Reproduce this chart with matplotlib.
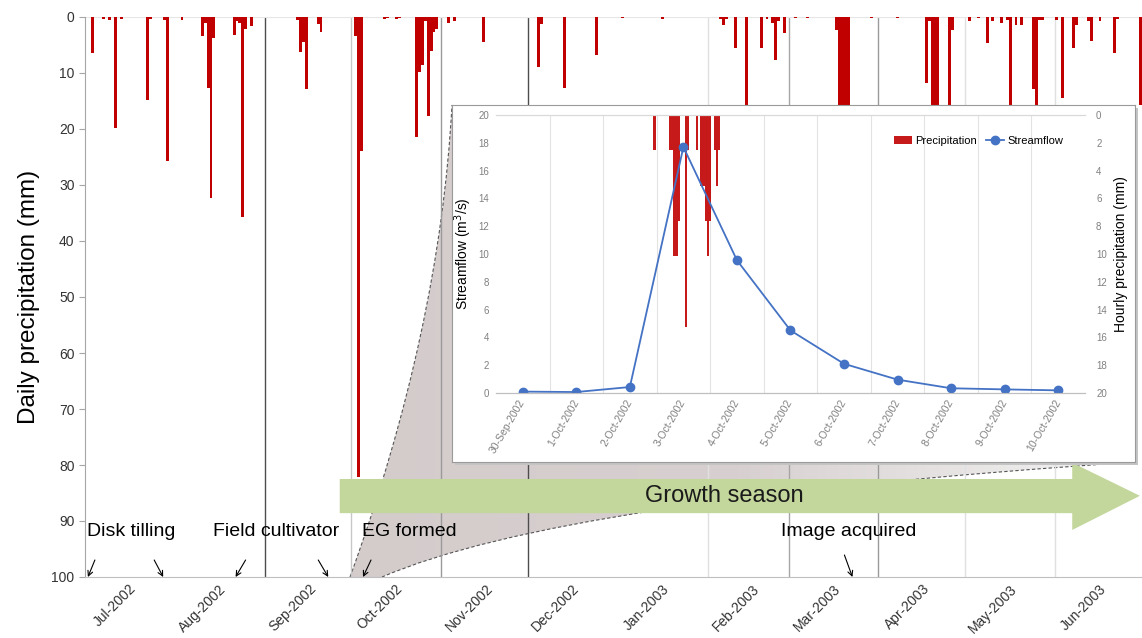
import numpy as np
import pandas as pd
import matplotlib
matplotlib.use('Agg')
import matplotlib.pyplot as plt
import matplotlib.dates as mdates
from matplotlib.patches import Polygon, Rectangle, PathPatch
from matplotlib.path import Path
from matplotlib.colors import LinearSegmentedColormap

plt.rcParams['font.family'] = ['Liberation Sans', 'DejaVu Sans']

# ---- daily precipitation, days counted from 1-Jul-2002 ----
season_start = '2002-07-01'
rain_day = [2, 6, 8, 10, 12, 21, 22, 27, 28, 33,
            40, 41, 42, 43, 44, 51, 52, 53, 54, 55, 57,
            73, 74, 75, 76, 80, 81,
            93, 94, 95, 103, 104, 107, 108,
            114, 115, 116, 117, 118, 119, 120, 121, 125, 127, 137,
            156, 157, 165, 176, 185, 199,
            219, 220, 221, 224, 228, 233, 235, 237, 238, 239, 241,
            245, 249, 259, 260, 261, 262, 263, 271, 280,
            290, 291, 292, 293, 294, 298, 299, 305, 308, 311, 313, 316, 318,
            319, 321, 323, 327, 328, 329, 330,
            335, 337, 341, 342, 346, 347, 350, 355, 356, 364]
rain_mm = [6.5, 0.3, 0.5, 19.9, 0.3, 14.8, 0.3, 0.5, 25.7, 0.6,
           3.4, 1.0, 12.7, 32.3, 3.8, 3.2, 0.8, 1.0, 35.8, 2.2, 1.6,
           0.6, 6.2, 4.4, 12.9, 1.3, 2.7,
           3.4, 82.2, 24.0, 0.3, 0.2, 0.3, 0.2,
           21.4, 9.9, 8.6, 0.7, 17.7, 6.0, 2.6, 2.2, 1.1, 0.7, 4.4,
           9.0, 1.3, 12.7, 6.8, 0.2, 0.4,
           0.3, 1.5, 0.3, 5.6, 18.0, 5.6, 0.4, 1.0, 7.6, 0.8, 2.8,
           0.2, 0.2, 2.3, 20.0, 24.0, 22.0, 17.0, 0.2, 0.2,
           11.7, 0.8, 18.0, 20.0, 17.0, 17.0, 2.4, 0.8, 0.2, 4.7, 0.7, 1.0, 0.5,
           20.0, 1.4, 1.4, 12.9, 19.0, 0.6, 0.6,
           0.5, 14.5, 5.6, 1.4, 0.8, 4.2, 0.8, 6.5, 0.3, 15.7]

month_labels = ['Jul-2002', 'Aug-2002', 'Sep-2002', 'Oct-2002', 'Nov-2002', 'Dec-2002',
                'Jan-2003', 'Feb-2003', 'Mar-2003', 'Apr-2003', 'May-2003', 'Jun-2003']

# month boundary lines and their grey level
line_dates = ['2002-09-01', '2002-10-01', '2002-11-01', '2002-12-01', '2003-02-01',
              '2003-03-01', '2003-04-01', '2003-05-01', '2003-06-01']
line_colors = ['#4d4d4d', '#c8c8c8', '#9a9a9a', '#4d4d4d', '#e0e0e0',
               '#a6a6a6', '#9a9a9a', '#e0e0e0', '#e0e0e0']

# field operations (label, arrow dates)
events = [('Disk tilling', ['2002-07-02', '2002-07-28']),
          ('Field cultivator', ['2002-08-22', '2002-09-23']),
          ('EG formed', ['2002-10-05']),
          ('Image acquired', ['2003-03-23'])]

# ---- inset: storm of October 2002 ----
flow_dates = ['30-Sep-2002', '1-Oct-2002', '2-Oct-2002', '3-Oct-2002', '4-Oct-2002',
              '5-Oct-2002', '6-Oct-2002', '7-Oct-2002', '8-Oct-2002', '9-Oct-2002',
              '10-Oct-2002']
streamflow = [0.10, 0.07, 0.43, 17.7, 9.55, 4.5, 2.1, 0.96, 0.34, 0.26, 0.19]
# hours counted from 30-Sep-2002 00:00
hour = [71, 78, 79, 80, 81, 82, 85, 86, 90, 92, 93, 94, 95, 96, 98, 99, 100]
hourly_mm = [2.54, 2.54, 2.54, 10.16, 10.16, 7.62, 15.24, 2.54, 2.54,
             5.08, 5.08, 7.62, 10.16, 7.62, 2.54, 5.08, 2.54]

W, H = 1142, 638
fig = plt.figure(figsize=(W / 100, H / 100), dpi=100)


def fx(x):
    return x / W


def fy(y):
    return 1 - y / H


def P(x, y):
    return (fx(x), fy(y))


red = '#c00000'
ax = fig.add_axes([fx(85), fy(577), fx(1142) - fx(85), fy(17) - fy(577)])
ax.set_zorder(0)

start = pd.Timestamp(season_start)
x0 = mdates.date2num(start)
x1 = mdates.date2num(start + pd.DateOffset(years=1))
xs = mdates.date2num(start + pd.to_timedelta(rain_day, unit='D')) + 0.5
ax.bar(xs, rain_mm, width=1.0, color=red, zorder=3)

# shaded zoom wedge towards the inset
wedge_path = Path([P(350, 577), P(440, 330), P(452, 105), P(1135, 105), P(1135, 462),
                   P(560, 500), P(382, 577), P(350, 577)],
                  [Path.MOVETO, Path.CURVE3, Path.CURVE3, Path.LINETO, Path.LINETO,
                   Path.CURVE3, Path.CURVE3, Path.CLOSEPOLY])
wedge = PathPatch(wedge_path, transform=fig.transFigure, facecolor='none', edgecolor='none')
ax.add_patch(wedge)
cmap = LinearSegmentedColormap.from_list('fade', ['#d4cbcb', '#d8d0d0', '#f4f4f4'])
grad = ax.imshow(np.linspace(0, 1, 256)[None, :], cmap=cmap, aspect='auto',
                 extent=(mdates.date2num(pd.Timestamp('2002-09-25')), x1, 100, 0), zorder=1)
grad.set_clip_path(wedge)
for vv in ([P(350, 577), P(440, 330), P(452, 105)], [P(1135, 462), P(560, 500), P(382, 577)]):
    ax.add_patch(PathPatch(Path(vv, [Path.MOVETO, Path.CURVE3, Path.CURVE3]),
                           transform=fig.transFigure, fill=False, ls=(0, (3, 2)),
                           ec='#555555', lw=0.8, zorder=1.5))

for d, c in zip(line_dates, line_colors):
    ax.axvline(mdates.date2num(pd.Timestamp(d)), color=c, lw=1.0, zorder=2)
ax.axhline(0, color='#e6e6e6', lw=0.8, zorder=2)

# growth season arrow (axes fractions)
arrow = Polygon([(0.241, 0.114), (0.241, 0.175), (0.934, 0.175), (0.934, 0.204),
                 (0.998, 0.145), (0.934, 0.084), (0.934, 0.114)],
                closed=True, transform=ax.transAxes, facecolor='#c3d69b',
                edgecolor='none', zorder=4)
ax.add_patch(arrow)
ax.text(0.605, 0.145, 'Growth season', transform=ax.transAxes, fontsize=17,
        ha='center', va='center', color='#1a1a1a', zorder=5)

# field operations
text_pos = {'Disk tilling': (87, 531), 'Field cultivator': (213, 531),
            'EG formed': (362, 531), 'Image acquired': (781, 531)}
tails = {'2002-07-02': (7, 17), '2002-07-28': (-9, 17), '2002-08-22': (10, 17),
         '2002-09-23': (-10, 17), '2002-10-05': (8, 17), '2003-03-23': (-8, 22)}
for name, dates in events:
    tx, ty = text_pos[name]
    ax.text((tx - 85) / 1057, (577 - ty) / 560, name, transform=ax.transAxes,
            fontsize=14, ha='left', va='center', color='black', zorder=5)
    for d in dates:
        ax.annotate('', xy=(mdates.date2num(pd.Timestamp(d)), 100),
                    xytext=tails[d], textcoords='offset pixels',
                    arrowprops=dict(arrowstyle='->', lw=0.8, color='black',
                                    shrinkA=0, shrinkB=0, mutation_scale=9),
                    zorder=5)

ax.set_xlim(x0, x1)
ax.set_ylim(100, 0)
ax.set_yticks(range(0, 101, 10))
month_starts = pd.date_range(start, periods=12, freq='MS')
ax.set_xticks(mdates.date2num(month_starts + pd.Timedelta(days=17)))
ax.set_xticklabels(month_labels, rotation=45, ha='right', rotation_mode='anchor',
                   va='center')
ax.tick_params(axis='x', length=0, pad=7, labelsize=10, labelcolor='#333333')
ax.tick_params(axis='y', length=4, color='#a6a6a6', labelsize=10, labelcolor='#333333')
for s in ['top', 'right']:
    ax.spines[s].set_visible(False)
ax.spines['left'].set_color('#a6a6a6')
ax.spines['bottom'].set_color('#bfbfbf')
ax.set_ylabel('Daily precipitation (mm)', fontsize=17.5, labelpad=8)

# ---- inset box ----
fig.add_artist(Rectangle(P(455, 465), fx(1135) - fx(452), fy(105) - fy(462),
                         transform=fig.transFigure, facecolor='#c4c4c4',
                         edgecolor='none', zorder=1.5))
box = fig.add_axes([fx(452), fy(462), fx(1135) - fx(452), fy(105) - fy(462)])
box.set_zorder(2)
box.set_xticks([])
box.set_yticks([])
for s in box.spines.values():
    s.set_color('#9a9a9a')

axp = fig.add_axes([fx(496), fy(393), fx(1085) - fx(496), fy(115) - fy(393)])
axp.set_zorder(3)
axp.patch.set_visible(False)
axs = axp.twinx()
axs.set_zorder(4)
axs.patch.set_visible(False)

pos = np.array(hour) / 24 - 0.5
bars = axp.bar(pos, hourly_mm, width=1 / 24, color=red, alpha=0.9, label='Precipitation')
for k in range(10):
    axp.axvline(k + 0.5, color='#e3e3e3', lw=0.8, zorder=0)
axp.set_ylim(20, 0)
axp.set_yticks(range(0, 21, 2))
axp.yaxis.tick_right()
axp.yaxis.set_label_position('right')
axp.set_ylabel('Hourly precipitation (mm)', fontsize=10, labelpad=5)

idx = np.arange(len(flow_dates))
line, = axs.plot(idx, streamflow, color='#4472c4', lw=1.3, marker='o', ms=6,
                 label='Streamflow')
axs.set_ylim(0, 20)
axs.set_yticks(range(0, 21, 2))
axs.yaxis.tick_left()
axs.yaxis.set_label_position('left')
axs.set_ylabel('Streamflow (m$^3$/s)', fontsize=10, labelpad=3)

axp.set_xlim(-0.5, 10.5)
axp.set_xticks(idx)
axp.set_xticklabels(flow_dates, rotation=60, ha='right', rotation_mode='anchor',
                    va='center')
axp.tick_params(axis='x', length=0, pad=5, labelsize=7.5, labelcolor='#808080')
axp.tick_params(axis='y', length=0, pad=8, labelsize=7, labelcolor='#808080')
axs.tick_params(axis='y', length=0, pad=5, labelsize=7, labelcolor='#808080')
for a in (axp, axs):
    a.spines['left'].set_visible(False)
    a.spines['right'].set_visible(False)
    a.spines['top'].set_color('#d9d9d9')
    a.spines['bottom'].set_color('#bfbfbf')
axs.legend(handles=[bars, line], loc='upper right', bbox_to_anchor=(0.98, 0.96),
           ncol=2, frameon=False, fontsize=8, handlelength=1.6,
           columnspacing=0.8, handletextpad=0.3)

fig.savefig('out.png', dpi=100)
